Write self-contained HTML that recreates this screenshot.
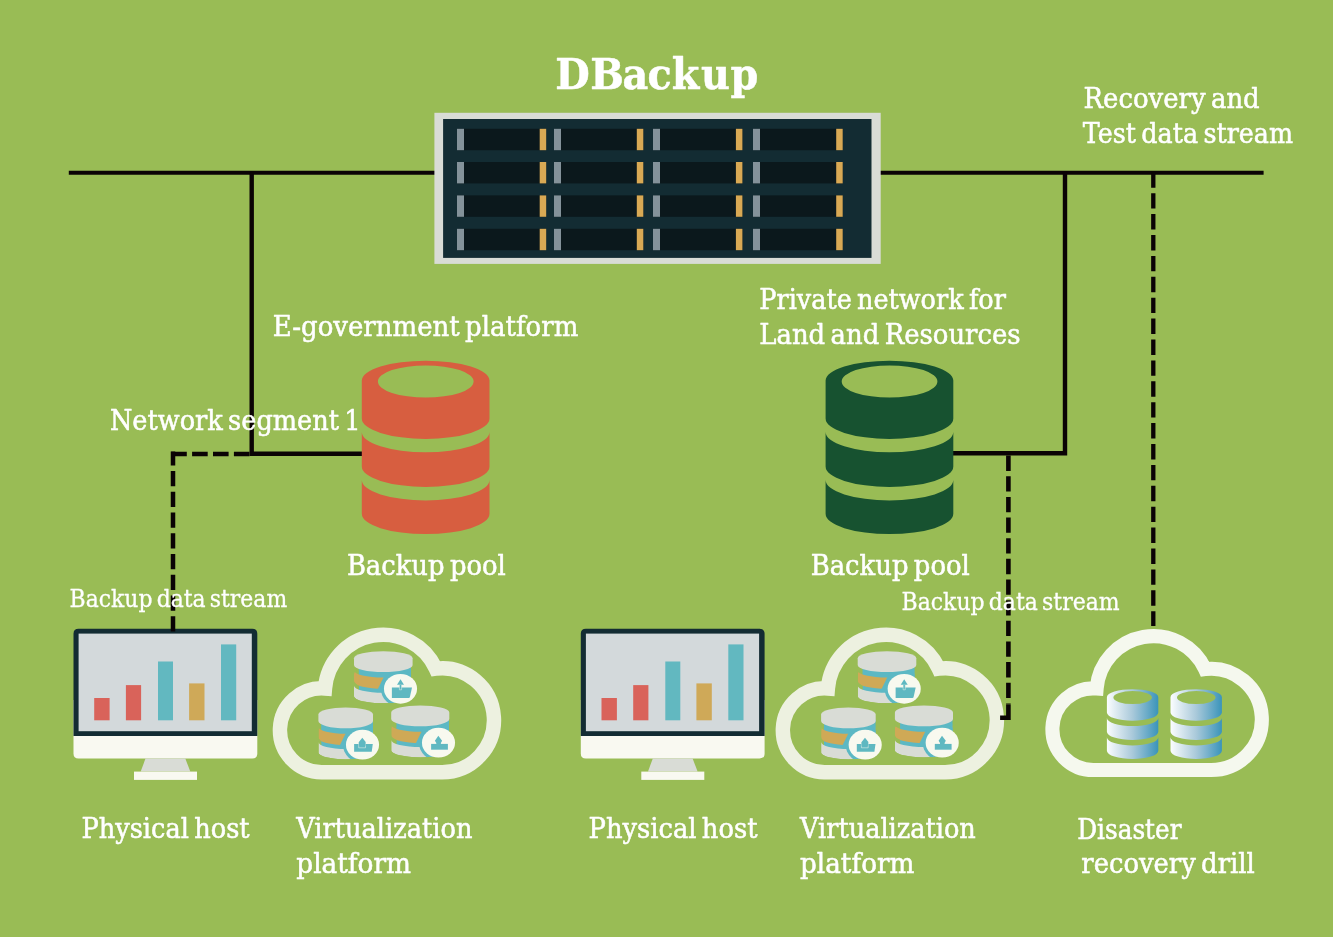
<!DOCTYPE html>
<html lang="en"><head><meta charset="utf-8"><title>DBackup</title>
<style>html,body{margin:0;padding:0;background:#99bc55;overflow:hidden}svg{display:block;will-change:transform}text{font-family:'DejaVu Serif','Liberation Serif',serif;fill:#fff;white-space:pre;stroke:#fff;stroke-width:0.55px;stroke-linejoin:round;word-spacing:-3px}</style>
</head><body>
<svg width="1333" height="937" viewBox="0 0 1333 937">
<defs><linearGradient id="bg1" x1="0" y1="0" x2="1" y2="0"><stop offset="0" stop-color="#fbfdfe"/><stop offset="0.5" stop-color="#a9c9da"/><stop offset="1" stop-color="#3a94ba"/></linearGradient></defs>
<rect width="1333" height="937" fill="#99bc55"/>
<path fill="none" stroke="#edf1e0" stroke-width="14.45" stroke-linejoin="miter" stroke-miterlimit="10" d="M321.58,772.25 A41.77,41.95 0 1 1 324.99,688.48 A58.23,58.49 0 0 1 435.85,668.6 A51.79,52.02 0 1 1 442.13,772.25 Z"/>
<path fill="none" stroke="#edf1e0" stroke-width="14.45" stroke-linejoin="miter" stroke-miterlimit="10" d="M824.48,772.25 A41.77,41.95 0 1 1 827.89,688.48 A58.23,58.49 0 0 1 938.75,668.6 A51.79,52.02 0 1 1 945.03,772.25 Z"/>
<path fill="none" stroke="#f5f8ee" stroke-width="14.1" stroke-linejoin="miter" stroke-miterlimit="10" d="M1093.3,770.05 A40.85,40.85 0 1 1 1096.64,688.49 A56.95,56.95 0 0 1 1205.06,669.12 A50.65,50.65 0 1 1 1211.2,770.05 Z"/>
<g transform="translate(0,0)">
<path fill="#f9f9f1" d="M73.5,700 H257.3 V753.5 Q257.3,758.5 252.3,758.5 H78.5 Q73.5,758.5 73.5,753.5 Z"/>
<path fill="#132c33" d="M78.5,628.8 H252.3 Q257.3,628.8 257.3,633.8 V736 H73.5 V633.8 Q73.5,628.8 78.5,628.8 Z"/>
<rect x="78.6" y="633.6" width="173.2" height="97.6" fill="#d3d9db"/>
<rect x="94.2" y="698" width="15.4" height="22.3" fill="#d9635a"/>
<rect x="125.9" y="685.1" width="15.2" height="35.2" fill="#d9635a"/>
<rect x="158" y="661.5" width="15" height="58.8" fill="#62b8c0"/>
<rect x="189.1" y="683.4" width="15.4" height="36.9" fill="#cfa958"/>
<rect x="221" y="644.4" width="15.2" height="75.9" fill="#62b8c0"/>
<path fill="#d9dcd6" d="M145.5,758.5 H185.3 L190.3,771.6 H140.7 Z"/>
<rect x="134" y="771.6" width="63" height="8.3" fill="#f9f9f1"/>
</g>
<g transform="translate(507.3,0)">
<path fill="#f9f9f1" d="M73.5,700 H257.3 V753.5 Q257.3,758.5 252.3,758.5 H78.5 Q73.5,758.5 73.5,753.5 Z"/>
<path fill="#132c33" d="M78.5,628.8 H252.3 Q257.3,628.8 257.3,633.8 V736 H73.5 V633.8 Q73.5,628.8 78.5,628.8 Z"/>
<rect x="78.6" y="633.6" width="173.2" height="97.6" fill="#d3d9db"/>
<rect x="94.2" y="698" width="15.4" height="22.3" fill="#d9635a"/>
<rect x="125.9" y="685.1" width="15.2" height="35.2" fill="#d9635a"/>
<rect x="158" y="661.5" width="15" height="58.8" fill="#62b8c0"/>
<rect x="189.1" y="683.4" width="15.4" height="36.9" fill="#cfa958"/>
<rect x="221" y="644.4" width="15.2" height="75.9" fill="#62b8c0"/>
<path fill="#d9dcd6" d="M145.5,758.5 H185.3 L190.3,771.6 H140.7 Z"/>
<rect x="134" y="771.6" width="63" height="8.3" fill="#f9f9f1"/>
</g>
<g fill="none" stroke="#0a0305">
<path stroke-width="4" d="M68.8,172.8 H436 M879,172.8 H1263.6"/>
<path stroke-width="4.4" d="M251.7,172.8 V453.8 H363"/>
<path stroke-width="4.4" d="M952,453.3 H1065 V172.8"/>
<path stroke-width="4.5" stroke-dasharray="15.6 5.3" d="M249.5,453.9 H170.7"/>
<path stroke-width="4.5" stroke-dasharray="15.4 5.35" stroke-dashoffset="1.4" d="M173,451.6 V632.2"/>
<path stroke-width="4.3" stroke-dasharray="15.4 5.5" d="M1153.3,172.3 V626"/>
<path stroke-width="4.6" stroke-dasharray="15.3 5.35" d="M1008.4,455.6 V704"/>
<path stroke-width="4.6" d="M1008.4,704.2 V717.8 H1000.1"/>
</g>
<rect x="434.4" y="112.8" width="446.3" height="151.1" fill="#d9dcd6"/>
<rect x="443.1" y="119" width="428.4" height="138.9" fill="#132c33"/>
<rect x="457" y="128.8" width="89.2" height="21.4" fill="#0b181c"/>
<rect x="457" y="128.8" width="7" height="21.4" fill="#84929a"/>
<rect x="539.7" y="128.8" width="6.5" height="21.4" fill="#d9a954"/>
<rect x="554" y="128.8" width="89.3" height="21.4" fill="#0b181c"/>
<rect x="554" y="128.8" width="7" height="21.4" fill="#84929a"/>
<rect x="636.8" y="128.8" width="6.5" height="21.4" fill="#d9a954"/>
<rect x="653" y="128.8" width="89.4" height="21.4" fill="#0b181c"/>
<rect x="653" y="128.8" width="7" height="21.4" fill="#84929a"/>
<rect x="735.9" y="128.8" width="6.5" height="21.4" fill="#d9a954"/>
<rect x="753" y="128.8" width="89.7" height="21.4" fill="#0b181c"/>
<rect x="753" y="128.8" width="7" height="21.4" fill="#84929a"/>
<rect x="836.2" y="128.8" width="6.5" height="21.4" fill="#d9a954"/>
<rect x="457" y="162" width="89.2" height="21.4" fill="#0b181c"/>
<rect x="457" y="162" width="7" height="21.4" fill="#84929a"/>
<rect x="539.7" y="162" width="6.5" height="21.4" fill="#d9a954"/>
<rect x="554" y="162" width="89.3" height="21.4" fill="#0b181c"/>
<rect x="554" y="162" width="7" height="21.4" fill="#84929a"/>
<rect x="636.8" y="162" width="6.5" height="21.4" fill="#d9a954"/>
<rect x="653" y="162" width="89.4" height="21.4" fill="#0b181c"/>
<rect x="653" y="162" width="7" height="21.4" fill="#84929a"/>
<rect x="735.9" y="162" width="6.5" height="21.4" fill="#d9a954"/>
<rect x="753" y="162" width="89.7" height="21.4" fill="#0b181c"/>
<rect x="753" y="162" width="7" height="21.4" fill="#84929a"/>
<rect x="836.2" y="162" width="6.5" height="21.4" fill="#d9a954"/>
<rect x="457" y="195.4" width="89.2" height="21.4" fill="#0b181c"/>
<rect x="457" y="195.4" width="7" height="21.4" fill="#84929a"/>
<rect x="539.7" y="195.4" width="6.5" height="21.4" fill="#d9a954"/>
<rect x="554" y="195.4" width="89.3" height="21.4" fill="#0b181c"/>
<rect x="554" y="195.4" width="7" height="21.4" fill="#84929a"/>
<rect x="636.8" y="195.4" width="6.5" height="21.4" fill="#d9a954"/>
<rect x="653" y="195.4" width="89.4" height="21.4" fill="#0b181c"/>
<rect x="653" y="195.4" width="7" height="21.4" fill="#84929a"/>
<rect x="735.9" y="195.4" width="6.5" height="21.4" fill="#d9a954"/>
<rect x="753" y="195.4" width="89.7" height="21.4" fill="#0b181c"/>
<rect x="753" y="195.4" width="7" height="21.4" fill="#84929a"/>
<rect x="836.2" y="195.4" width="6.5" height="21.4" fill="#d9a954"/>
<rect x="457" y="228.8" width="89.2" height="21.4" fill="#0b181c"/>
<rect x="457" y="228.8" width="7" height="21.4" fill="#84929a"/>
<rect x="539.7" y="228.8" width="6.5" height="21.4" fill="#d9a954"/>
<rect x="554" y="228.8" width="89.3" height="21.4" fill="#0b181c"/>
<rect x="554" y="228.8" width="7" height="21.4" fill="#84929a"/>
<rect x="636.8" y="228.8" width="6.5" height="21.4" fill="#d9a954"/>
<rect x="653" y="228.8" width="89.4" height="21.4" fill="#0b181c"/>
<rect x="653" y="228.8" width="7" height="21.4" fill="#84929a"/>
<rect x="735.9" y="228.8" width="6.5" height="21.4" fill="#d9a954"/>
<rect x="753" y="228.8" width="89.7" height="21.4" fill="#0b181c"/>
<rect x="753" y="228.8" width="7" height="21.4" fill="#84929a"/>
<rect x="836.2" y="228.8" width="6.5" height="21.4" fill="#d9a954"/>
<path fill="#d75e40" fill-rule="evenodd" d="M361.8,380.5 A63.85,19.8 0 0 1 489.5,380.5 L489.5,418.6 A63.85,20.3 0 0 1 361.8,418.6 Z M377.9,381.5 A47.85,16.1 0 0 0 473.6,381.5 A47.85,16.1 0 0 0 377.9,381.5 Z"/>
<path fill="#d75e40" d="M361.8,432 A63.85,20.3 0 0 0 489.5,432 L489.5,466.6 A63.85,20.3 0 0 1 361.8,466.6 Z"/>
<path fill="#d75e40" d="M361.8,480.1 A63.85,20.3 0 0 0 489.5,480.1 L489.5,513.8 A63.85,20.3 0 0 1 361.8,513.8 Z"/>
<path fill="#175230" fill-rule="evenodd" d="M825.6,380.5 A63.85,19.8 0 0 1 953.3,380.5 L953.3,418.6 A63.85,20.3 0 0 1 825.6,418.6 Z M841.7,381.5 A47.85,16.1 0 0 0 937.4,381.5 A47.85,16.1 0 0 0 841.7,381.5 Z"/>
<path fill="#175230" d="M825.6,432 A63.85,20.3 0 0 0 953.3,432 L953.3,466.6 A63.85,20.3 0 0 1 825.6,466.6 Z"/>
<path fill="#175230" d="M825.6,480.1 A63.85,20.3 0 0 0 953.3,480.1 L953.3,513.8 A63.85,20.3 0 0 1 825.6,513.8 Z"/>
<path fill="url(#bg1)" fill-rule="evenodd" d="M1106.9,697.17 A25.7,7.97 0 0 1 1158.3,697.17 L1158.3,712.5 A25.7,8.17 0 0 1 1106.9,712.5 Z M1113.38,697.57 A19.26,6.48 0 0 0 1151.9,697.57 A19.26,6.48 0 0 0 1113.38,697.57 Z"/>
<path fill="url(#bg1)" d="M1106.9,717.9 A25.7,8.17 0 0 0 1158.3,717.9 L1158.3,731.82 A25.7,8.17 0 0 1 1106.9,731.82 Z"/>
<path fill="url(#bg1)" d="M1106.9,737.26 A25.7,8.17 0 0 0 1158.3,737.26 L1158.3,750.82 A25.7,8.17 0 0 1 1106.9,750.82 Z"/>
<path fill="url(#bg1)" fill-rule="evenodd" d="M1170.5,697.17 A25.7,7.97 0 0 1 1221.9,697.17 L1221.9,712.5 A25.7,8.17 0 0 1 1170.5,712.5 Z M1176.98,697.57 A19.26,6.48 0 0 0 1215.5,697.57 A19.26,6.48 0 0 0 1176.98,697.57 Z"/>
<path fill="url(#bg1)" d="M1170.5,717.9 A25.7,8.17 0 0 0 1221.9,717.9 L1221.9,731.82 A25.7,8.17 0 0 1 1170.5,731.82 Z"/>
<path fill="url(#bg1)" d="M1170.5,737.26 A25.7,8.17 0 0 0 1221.9,737.26 L1221.9,750.82 A25.7,8.17 0 0 1 1170.5,750.82 Z"/>
<g transform="translate(354,651.2)">
<clipPath id="cb1"><path d="M0,7 A29.3,7 0 0 1 58.6,7 L58.6,45 A29.3,7 0 0 1 0,45 Z"/></clipPath>
<path fill="#5cb8c4" d="M4.8,12 L57,12 L57,44 A26.1,7 0 0 1 4.8,44 Z"/>
<g clip-path="url(#cb1)">
<path fill="#cfa956" d="M0,19.3 A29.3,7 0 0 0 58.6,19.3 L58.6,30.6 A29.3,7 0 0 1 0,30.6 Z"/>
<path fill="#5cb8c4" d="M33.6,18 L57,18 L57,41 L22.2,41 Z"/>
<rect x="57" y="14" width="4" height="30" fill="#99bc55"/>
<path fill="#99bc55" d="M-1,29.9 H0 Q0.4,32.4 4.8,34.3 V38 H-1 Z M-1,16 H2.4 V20.9 Q0,20.5 0,23 H-1 Z"/>
<path fill="#d9dcd6" d="M0,34.6 A29.3,7 0 0 0 58.6,34.6 L58.6,45 A29.3,7 0 0 1 0,45 Z"/>
<clipPath id="cr1"><rect x="0" y="0" width="57" height="60"/></clipPath>
<ellipse clip-path="url(#cr1)" cx="46.5" cy="37.6" rx="19.65" ry="18" fill="#5cb8c4"/>
</g>
<path fill="#d9dcd6" d="M0,7 A29.3,7 0 0 1 58.6,7 L58.6,13.7 A29.3,7.2 0 0 1 0,13.7 Z"/>
<ellipse cx="46.5" cy="37.6" rx="16.55" ry="14.9" fill="#f8f9ef"/>
<g transform="translate(46.5,37.6)" fill="#5fb8c1">
<path d="M-8.6,-1.4 H11.5 L9.4,8.2 Q9.2,9.1 8.2,9.1 H-8.6 Z"/>
<path stroke="#f8f9ef" stroke-width="0.45" d="M-1.1,-4.3 H1.1 V1 H-1.1 Z"/><path d="M0,-9.6 L3.5,-4.1 H-3.5 Z"/>
</g>
</g>
<g transform="translate(318.4,707.4)">
<clipPath id="cb2"><path d="M0,7 A27.3,7 0 0 1 54.6,7 L54.6,45 A27.3,7 0 0 1 0,45 Z"/></clipPath>
<path fill="#5cb8c4" d="M2.8,12 L54.6,12 L54.6,44 A25.9,7 0 0 1 2.8,44 Z"/>
<g clip-path="url(#cb2)">
<path fill="#cfa956" d="M0,19.3 A27.3,7 0 0 0 54.6,19.3 L54.6,30.6 A27.3,7 0 0 1 0,30.6 Z"/>
<path fill="#5cb8c4" d="M31.2,18 L54.6,18 L54.6,41 L19.8,41 Z"/>
<rect x="54.6" y="14" width="4" height="30" fill="#99bc55"/>
<path fill="#99bc55" d="M-1,29.9 H0 Q0.4,32.4 2.8,33.8 V38 H-1 Z M-1,16 H2.4 V20.9 Q0,20.5 0,23 H-1 Z"/>
<path fill="#d9dcd6" d="M0,34.6 A27.3,7 0 0 0 54.6,34.6 L54.6,45 A27.3,7 0 0 1 0,45 Z"/>
<clipPath id="cr2"><rect x="0" y="0" width="54.6" height="60"/></clipPath>
<ellipse clip-path="url(#cr2)" cx="44.1" cy="37.3" rx="19.65" ry="18" fill="#5cb8c4"/>
</g>
<path fill="#d9dcd6" d="M0,7 A27.3,7 0 0 1 54.6,7 L54.6,13.7 A27.3,7.2 0 0 1 0,13.7 Z"/>
<ellipse cx="44.1" cy="37.3" rx="16.55" ry="14.9" fill="#f8f9ef"/>
<g transform="translate(44.1,37.3)" fill="#5fb8c1">
<path d="M-8.4,-0.7 H10.3 L9.2,7 H-8.4 Z"/>
<path stroke="#f8f9ef" stroke-width="0.5" d="M-3.8,-2.4 V3.1 H3 V-2.4"/>
<path d="M-0.2,-7 L3.4,-2.4 H-3.8 Z M-3.6,-2.5 H3 V1 H-3.6 Z"/>
</g>
</g>
<g transform="translate(391.2,705.4)">
<clipPath id="cb3"><path d="M0,7 A29.05,7 0 0 1 58.1,7 L58.1,45 A29.05,7 0 0 1 0,45 Z"/></clipPath>
<path fill="#5cb8c4" d="M5.2,12 L57.8,12 L57.8,44 A26.3,7 0 0 1 5.2,44 Z"/>
<g clip-path="url(#cb3)">
<path fill="#cfa956" d="M0,19.3 A29.05,7 0 0 0 58.1,19.3 L58.1,30.6 A29.05,7 0 0 1 0,30.6 Z"/>
<path fill="#5cb8c4" d="M34.4,18 L57.8,18 L57.8,41 L23,41 Z"/>
<rect x="57.8" y="14" width="4" height="30" fill="#99bc55"/>
<path fill="#99bc55" d="M-1,29.9 H0 Q0.4,32.4 5.2,34.4 V38 H-1 Z M-1,16 H2.4 V20.9 Q0,20.5 0,23 H-1 Z"/>
<path fill="#d9dcd6" d="M0,34.6 A29.05,7 0 0 0 58.1,34.6 L58.1,45 A29.05,7 0 0 1 0,45 Z"/>
<clipPath id="cr3"><rect x="0" y="0" width="57.8" height="60"/></clipPath>
<ellipse clip-path="url(#cr3)" cx="47.3" cy="37.3" rx="19.65" ry="18" fill="#5cb8c4"/>
</g>
<path fill="#d9dcd6" d="M0,7 A29.05,7 0 0 1 58.1,7 L58.1,13.7 A29.05,7.2 0 0 1 0,13.7 Z"/>
<ellipse cx="47.3" cy="37.3" rx="16.55" ry="14.9" fill="#f8f9ef"/>
<g transform="translate(47.3,37.3)" fill="#5fb8c1">
<path d="M-7.4,1.2 H9.4 V7 H-7.4 Z"/>
<path d="M-0.2,-7 L3.6,-1.9 L2.4,0.3 V1.3 H-2.2 V0.3 L-3.6,-1.9 Z"/>
</g>
</g>
<g transform="translate(857.7,651.2)">
<clipPath id="cb4"><path d="M0,7 A29.3,7 0 0 1 58.6,7 L58.6,45 A29.3,7 0 0 1 0,45 Z"/></clipPath>
<path fill="#5cb8c4" d="M4.8,12 L57,12 L57,44 A26.1,7 0 0 1 4.8,44 Z"/>
<g clip-path="url(#cb4)">
<path fill="#cfa956" d="M0,19.3 A29.3,7 0 0 0 58.6,19.3 L58.6,30.6 A29.3,7 0 0 1 0,30.6 Z"/>
<path fill="#5cb8c4" d="M33.6,18 L57,18 L57,41 L22.2,41 Z"/>
<rect x="57" y="14" width="4" height="30" fill="#99bc55"/>
<path fill="#99bc55" d="M-1,29.9 H0 Q0.4,32.4 4.8,34.3 V38 H-1 Z M-1,16 H2.4 V20.9 Q0,20.5 0,23 H-1 Z"/>
<path fill="#d9dcd6" d="M0,34.6 A29.3,7 0 0 0 58.6,34.6 L58.6,45 A29.3,7 0 0 1 0,45 Z"/>
<clipPath id="cr4"><rect x="0" y="0" width="57" height="60"/></clipPath>
<ellipse clip-path="url(#cr4)" cx="46.5" cy="37.6" rx="19.65" ry="18" fill="#5cb8c4"/>
</g>
<path fill="#d9dcd6" d="M0,7 A29.3,7 0 0 1 58.6,7 L58.6,13.7 A29.3,7.2 0 0 1 0,13.7 Z"/>
<ellipse cx="46.5" cy="37.6" rx="16.55" ry="14.9" fill="#f8f9ef"/>
<g transform="translate(46.5,37.6)" fill="#5fb8c1">
<path d="M-8.6,-1.4 H11.5 L9.4,8.2 Q9.2,9.1 8.2,9.1 H-8.6 Z"/>
<path stroke="#f8f9ef" stroke-width="0.45" d="M-1.1,-4.3 H1.1 V1 H-1.1 Z"/><path d="M0,-9.6 L3.5,-4.1 H-3.5 Z"/>
</g>
</g>
<g transform="translate(821.1,707.4)">
<clipPath id="cb5"><path d="M0,7 A27.3,7 0 0 1 54.6,7 L54.6,45 A27.3,7 0 0 1 0,45 Z"/></clipPath>
<path fill="#5cb8c4" d="M2.8,12 L54.6,12 L54.6,44 A25.9,7 0 0 1 2.8,44 Z"/>
<g clip-path="url(#cb5)">
<path fill="#cfa956" d="M0,19.3 A27.3,7 0 0 0 54.6,19.3 L54.6,30.6 A27.3,7 0 0 1 0,30.6 Z"/>
<path fill="#5cb8c4" d="M31.2,18 L54.6,18 L54.6,41 L19.8,41 Z"/>
<rect x="54.6" y="14" width="4" height="30" fill="#99bc55"/>
<path fill="#99bc55" d="M-1,29.9 H0 Q0.4,32.4 2.8,33.8 V38 H-1 Z M-1,16 H2.4 V20.9 Q0,20.5 0,23 H-1 Z"/>
<path fill="#d9dcd6" d="M0,34.6 A27.3,7 0 0 0 54.6,34.6 L54.6,45 A27.3,7 0 0 1 0,45 Z"/>
<clipPath id="cr5"><rect x="0" y="0" width="54.6" height="60"/></clipPath>
<ellipse clip-path="url(#cr5)" cx="44.1" cy="37.3" rx="19.65" ry="18" fill="#5cb8c4"/>
</g>
<path fill="#d9dcd6" d="M0,7 A27.3,7 0 0 1 54.6,7 L54.6,13.7 A27.3,7.2 0 0 1 0,13.7 Z"/>
<ellipse cx="44.1" cy="37.3" rx="16.55" ry="14.9" fill="#f8f9ef"/>
<g transform="translate(44.1,37.3)" fill="#5fb8c1">
<path d="M-8.4,-0.7 H10.3 L9.2,7 H-8.4 Z"/>
<path stroke="#f8f9ef" stroke-width="0.5" d="M-3.8,-2.4 V3.1 H3 V-2.4"/>
<path d="M-0.2,-7 L3.4,-2.4 H-3.8 Z M-3.6,-2.5 H3 V1 H-3.6 Z"/>
</g>
</g>
<g transform="translate(894.9,705.4)">
<clipPath id="cb6"><path d="M0,7 A29.05,7 0 0 1 58.1,7 L58.1,45 A29.05,7 0 0 1 0,45 Z"/></clipPath>
<path fill="#5cb8c4" d="M5.2,12 L57.8,12 L57.8,44 A26.3,7 0 0 1 5.2,44 Z"/>
<g clip-path="url(#cb6)">
<path fill="#cfa956" d="M0,19.3 A29.05,7 0 0 0 58.1,19.3 L58.1,30.6 A29.05,7 0 0 1 0,30.6 Z"/>
<path fill="#5cb8c4" d="M34.4,18 L57.8,18 L57.8,41 L23,41 Z"/>
<rect x="57.8" y="14" width="4" height="30" fill="#99bc55"/>
<path fill="#99bc55" d="M-1,29.9 H0 Q0.4,32.4 5.2,34.4 V38 H-1 Z M-1,16 H2.4 V20.9 Q0,20.5 0,23 H-1 Z"/>
<path fill="#d9dcd6" d="M0,34.6 A29.05,7 0 0 0 58.1,34.6 L58.1,45 A29.05,7 0 0 1 0,45 Z"/>
<clipPath id="cr6"><rect x="0" y="0" width="57.8" height="60"/></clipPath>
<ellipse clip-path="url(#cr6)" cx="47.3" cy="37.3" rx="19.65" ry="18" fill="#5cb8c4"/>
</g>
<path fill="#d9dcd6" d="M0,7 A29.05,7 0 0 1 58.1,7 L58.1,13.7 A29.05,7.2 0 0 1 0,13.7 Z"/>
<ellipse cx="47.3" cy="37.3" rx="16.55" ry="14.9" fill="#f8f9ef"/>
<g transform="translate(47.3,37.3)" fill="#5fb8c1">
<path d="M-7.4,1.2 H9.4 V7 H-7.4 Z"/>
<path d="M-0.2,-7 L3.6,-1.9 L2.4,0.3 V1.3 H-2.2 V0.3 L-3.6,-1.9 Z"/>
</g>
</g>
<text transform="scale(0.93,1)" x="596.92 634.61 669.35 696.27 722.38 753.82 785.61" y="89.4" font-size="42.8" font-weight="bold" style="stroke-width:0.5px">DBackup</text>
<text x="1083.6" y="107.9" font-size="27.3" textLength="176.1" lengthAdjust="spacingAndGlyphs" >Recovery and</text>
<text x="1082.8" y="142.5" font-size="27.3" textLength="210.3" lengthAdjust="spacingAndGlyphs" >Test data stream</text>
<text x="759.3" y="309.4" font-size="27.3" textLength="246.6" lengthAdjust="spacingAndGlyphs" >Private network for</text>
<text x="759.3" y="344.1" font-size="27.3" textLength="261.3" lengthAdjust="spacingAndGlyphs" >Land and Resources</text>
<text x="272.8" y="335.7" font-size="27.3" textLength="305.5" lengthAdjust="spacingAndGlyphs" >E-government platform</text>
<text x="109.9" y="430.4" font-size="27.3" textLength="250.7" lengthAdjust="spacingAndGlyphs" >Network segment 1</text>
<text x="346.9" y="574.6" font-size="27.3" textLength="158.9" lengthAdjust="spacingAndGlyphs" >Backup pool</text>
<text x="810.7" y="574.6" font-size="27.3" textLength="159.1" lengthAdjust="spacingAndGlyphs" >Backup pool</text>
<text x="69.6" y="607.4" font-size="23.4" textLength="217.6" lengthAdjust="spacingAndGlyphs" style="stroke-width:0.3px">Backup data stream</text>
<text x="901.5" y="609.9" font-size="23.4" textLength="218.1" lengthAdjust="spacingAndGlyphs" style="stroke-width:0.3px">Backup data stream</text>
<text x="81.4" y="838.4" font-size="27.3" textLength="168.3" lengthAdjust="spacingAndGlyphs" >Physical host</text>
<text x="588.6" y="838.4" font-size="27.3" textLength="168.9" lengthAdjust="spacingAndGlyphs" >Physical host</text>
<text x="296.3" y="838.4" font-size="27.3" textLength="176.1" lengthAdjust="spacingAndGlyphs" >Virtualization</text>
<text x="296.3" y="873.1" font-size="27.3" textLength="114.7" lengthAdjust="spacingAndGlyphs" >platform</text>
<text x="800" y="838.4" font-size="27.3" textLength="175.8" lengthAdjust="spacingAndGlyphs" >Virtualization</text>
<text x="800" y="873.1" font-size="27.3" textLength="114.4" lengthAdjust="spacingAndGlyphs" >platform</text>
<text x="1077.2" y="838.5" font-size="27.3" textLength="104.3" lengthAdjust="spacingAndGlyphs" >Disaster</text>
<text x="1081.3" y="873.3" font-size="27.3" textLength="173.5" lengthAdjust="spacingAndGlyphs" >recovery drill</text>
</svg>
</body></html>
